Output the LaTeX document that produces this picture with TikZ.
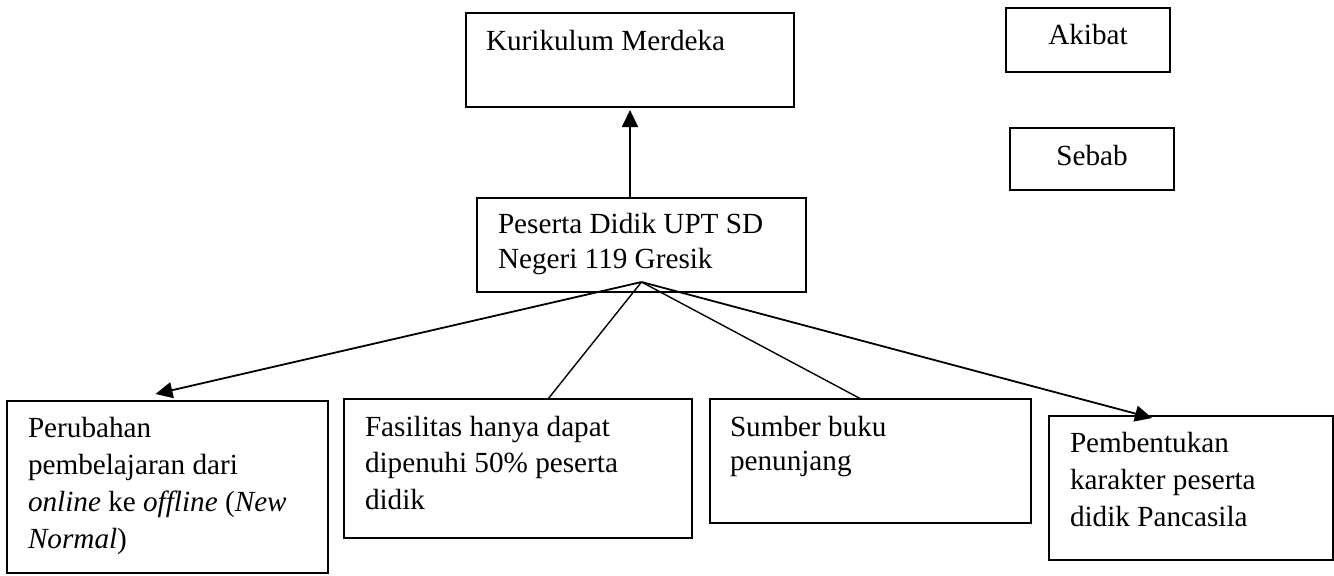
\documentclass[tikz,border=0pt]{standalone}
\usepackage{fontspec}
\setmainfont{Liberation Serif}
\usetikzlibrary{arrows.meta,calc}
% width, height, left pad, top pad, baselineskip, text
\newcommand\bxtext[6]{\begin{minipage}[t][#2][t]{#1}\fontsize{14.6pt}{#5}\selectfont\raggedright\leftskip=#3\relax\vspace*{#4}\rule{0pt}{12pt}#6\end{minipage}}
% width, height, top pad, text (centred)
\newcommand\bxcentre[4]{\begin{minipage}[t][#2][t]{#1}\fontsize{14.6pt}{18pt}\selectfont\centering\vspace*{#3}\rule{0pt}{12pt}#4\end{minipage}}
\tikzset{
  bx/.style={draw, line width=0.65pt, inner sep=0pt, outer sep=0pt, anchor=north west},
  arr/.style={-{Triangle[length=8.5pt,width=8pt]}, line width=0.9pt},
  ln/.style={line width=0.7pt}
}
\begin{document}
\begin{tikzpicture}[x=0.5pt,y=-0.5pt]
\useasboundingbox (0,0) rectangle (1334,575);
\node[bx] (K) at (466,13) {\bxtext{164pt}{47pt}{10pt}{6.5pt}{18pt}{Kurikulum Merdeka}};
\node[bx] (A) at (1006,8) {\bxcentre{82pt}{32pt}{6pt}{Akibat}};
\node[bx] (S) at (1010,128) {\bxcentre{82pt}{31pt}{6.5pt}{Sebab}};
\node[bx] (P) at (477,198) {\bxtext{164.5pt}{47pt}{10.5pt}{5.5pt}{17.5pt}{Peserta Didik UPT SD\\Negeri 119 Gresik}};
\node[bx] (b1) at (7,401) {\bxtext{160.5pt}{86pt}{10.5pt}{6pt}{18.5pt}{Perubahan\\pembelajaran dari\\\textit{online} ke \textit{offline} (\textit{New}\\\textit{Normal})}};
\node[bx] (b2) at (344,399) {\bxtext{174pt}{69.5pt}{10.5pt}{6.5pt}{18.25pt}{Fasilitas hanya dapat\\dipenuhi 50\% peserta\\didik}};
\node[bx] (b3) at (710,399) {\bxtext{160.5pt}{62pt}{10pt}{6.5pt}{17pt}{Sumber buku\\penunjang}};
\node[bx] (b4) at (1049,416) {\bxtext{142pt}{72pt}{10.5pt}{6pt}{18.5pt}{Pembentukan\\karakter peserta\\didik Pancasila}};
\coordinate (apex) at ([yshift=5pt]P.south);
\draw[arr, shorten >=1.5pt] (P.north -| K.south) -- (K.south);
\draw[arr] (apex) -- ([xshift=-6pt,yshift=3.5pt]b1.north);
\draw[ln] (apex) -- ([xshift=15pt]b2.north);
\draw[ln] (apex) -- ([xshift=-4.75pt]b3.north);
\draw[arr] (apex) -- ([xshift=-19.5pt,yshift=-1pt]b4.north);
\end{tikzpicture}
\end{document}
